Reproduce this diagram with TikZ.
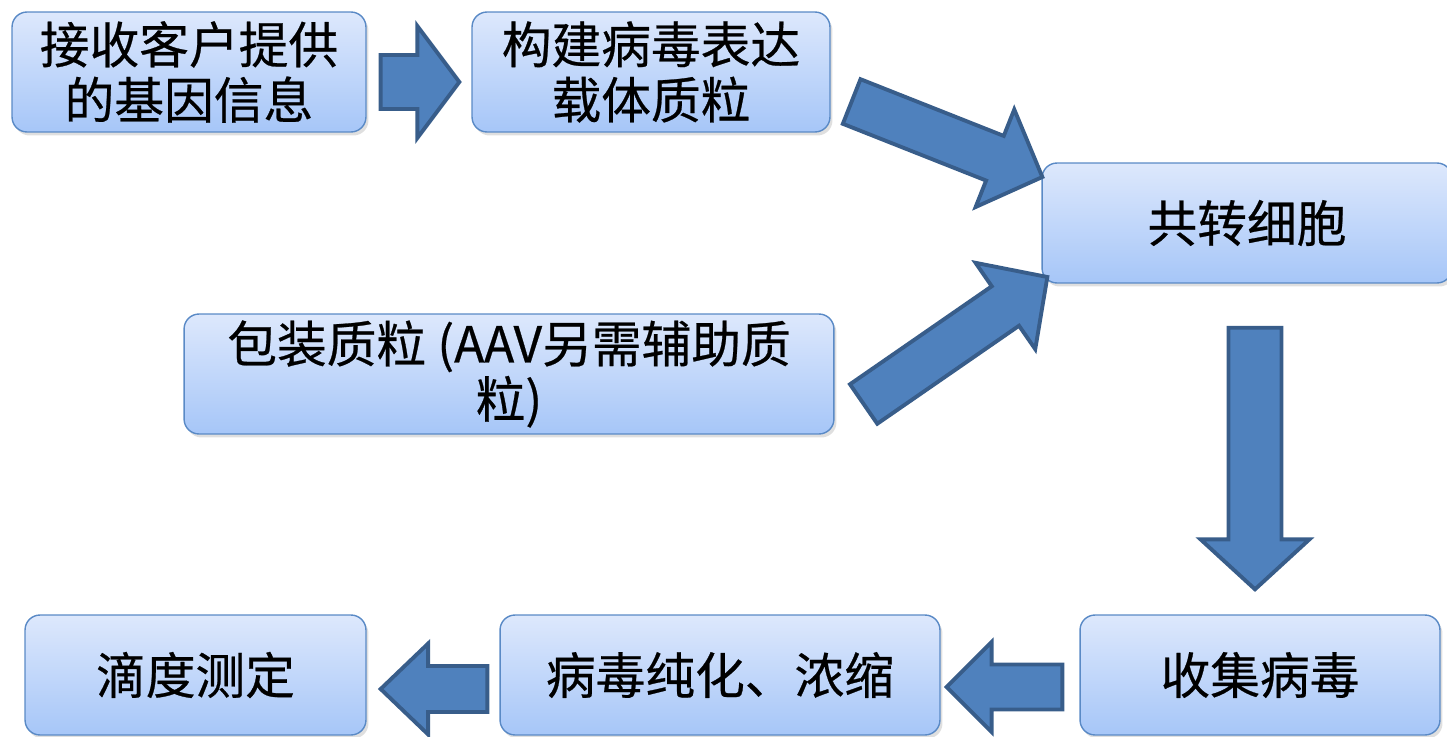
\documentclass[tikz,border=0pt]{standalone}
\usepackage{fontspec}
\setmainfont{Noto Sans CJK SC}
\newfontfamily\boxfont[FakeBold=0.5]{Noto Sans CJK SC}
\usetikzlibrary{calc, shadows}

\definecolor{boxtop}{HTML}{DDE8FC}
\definecolor{boxbottom}{HTML}{A6C6F8}
\definecolor{boxline}{HTML}{5A8AC6}
\definecolor{arrowfill}{HTML}{4F81BD}
\definecolor{arrowline}{HTML}{385D8A}

\tikzset{
    box/.style={draw=boxline, line width=0.8pt, rounded corners=0.3cm,
        top color=boxtop, bottom color=boxbottom, minimum height=2.4cm,
        align=center, inner sep=0pt, font=\boxfont\fontsize{28.3}{31.5}\selectfont,
        drop shadow={opacity=0.25, shadow xshift=0.05cm, shadow yshift=-0.07cm}},
    blockarrow/.style={draw=arrowline, fill=arrowfill, line width=2.2pt, line join=miter}
}

% block arrow: tail, tip, half shaft, half head, head length
\newcommand{\flowarrow}[5]{%
    \coordinate (fa-base) at ($(#2)!#5!(#1)$);
    \draw[blockarrow] ($(#1)!#3!90:(#2)$) -- ($(fa-base)!#3!90:(#2)$)
        -- ($(fa-base)!#4!90:(#2)$) -- (#2) -- ($(fa-base)!#4!-90:(#2)$)
        -- ($(fa-base)!#3!-90:(#2)$) -- ($(#1)!#3!-90:(#2)$) -- cycle;
}

\begin{document}
\begin{tikzpicture}[x=0.02cm, y=-0.02cm]
        \useasboundingbox (0,0) rectangle (1447,737);

        % Boxes
        \node[box, minimum width=7.08cm] (recv) at (189,72) {接收客户提供\\的基因信息};
        \node[box, minimum width=7.16cm] (build) at (651,72) {构建病毒表达\\载体质粒};
        \node[box, minimum width=8.2cm] (cotrans) at (1247,223) {共转细胞};
        \node[box, minimum width=13cm] (pack) at (509,374) {包装质粒 (AAV另需辅助质\\粒)};
        \node[box, minimum width=7.2cm] (collect) at (1260,675) {收集病毒};
        \node[box, minimum width=8.8cm] (purify) at (720,675) {病毒纯化、浓缩};
        \node[box, minimum width=6.82cm] (titer) at (195.5,675) {滴度测定};

        % Arrow ends
        \coordinate (a1s) at ($(recv.east)+(14,10)$);
        \coordinate (a1e) at ($(build.west)+(-12,10)$);
        \coordinate (a2s) at ($(build.east)+(21,29.5)$);
        \coordinate (a2e) at ($(cotrans.west)+(1,-46)$);
        \coordinate (a3s) at ($(pack.east)+(29,30)$);
        \coordinate (a3e) at ($(cotrans.west)+(6,54)$);
        \coordinate (a4s) at ($(cotrans.south)+(8,44)$);
        \coordinate (a4e) at ($(collect.north)+(-5,-25)$);
        \coordinate (a5s) at ($(collect.west)+(-17,12)$);
        \coordinate (a5e) at ($(purify.east)+(6,12)$);
        \coordinate (a6s) at ($(purify.west)+(-12,14)$);
        \coordinate (a6e) at ($(titer.east)+(14,14)$);

        % Block arrows
        \flowarrow{a1s}{a1e}{0.54cm}{1.12cm}{0.84cm}
        \flowarrow{a2s}{a2e}{0.48cm}{1.05cm}{1.02cm}
        \flowarrow{a3s}{a3e}{0.48cm}{1.05cm}{1.02cm}
        \flowarrow{a4s}{a4e}{0.53cm}{1.09cm}{1.0cm}
        \flowarrow{a5s}{a5e}{0.45cm}{0.9cm}{0.9cm}
        \flowarrow{a6s}{a6e}{0.46cm}{0.91cm}{0.95cm}
    \end{tikzpicture}
\end{document}
